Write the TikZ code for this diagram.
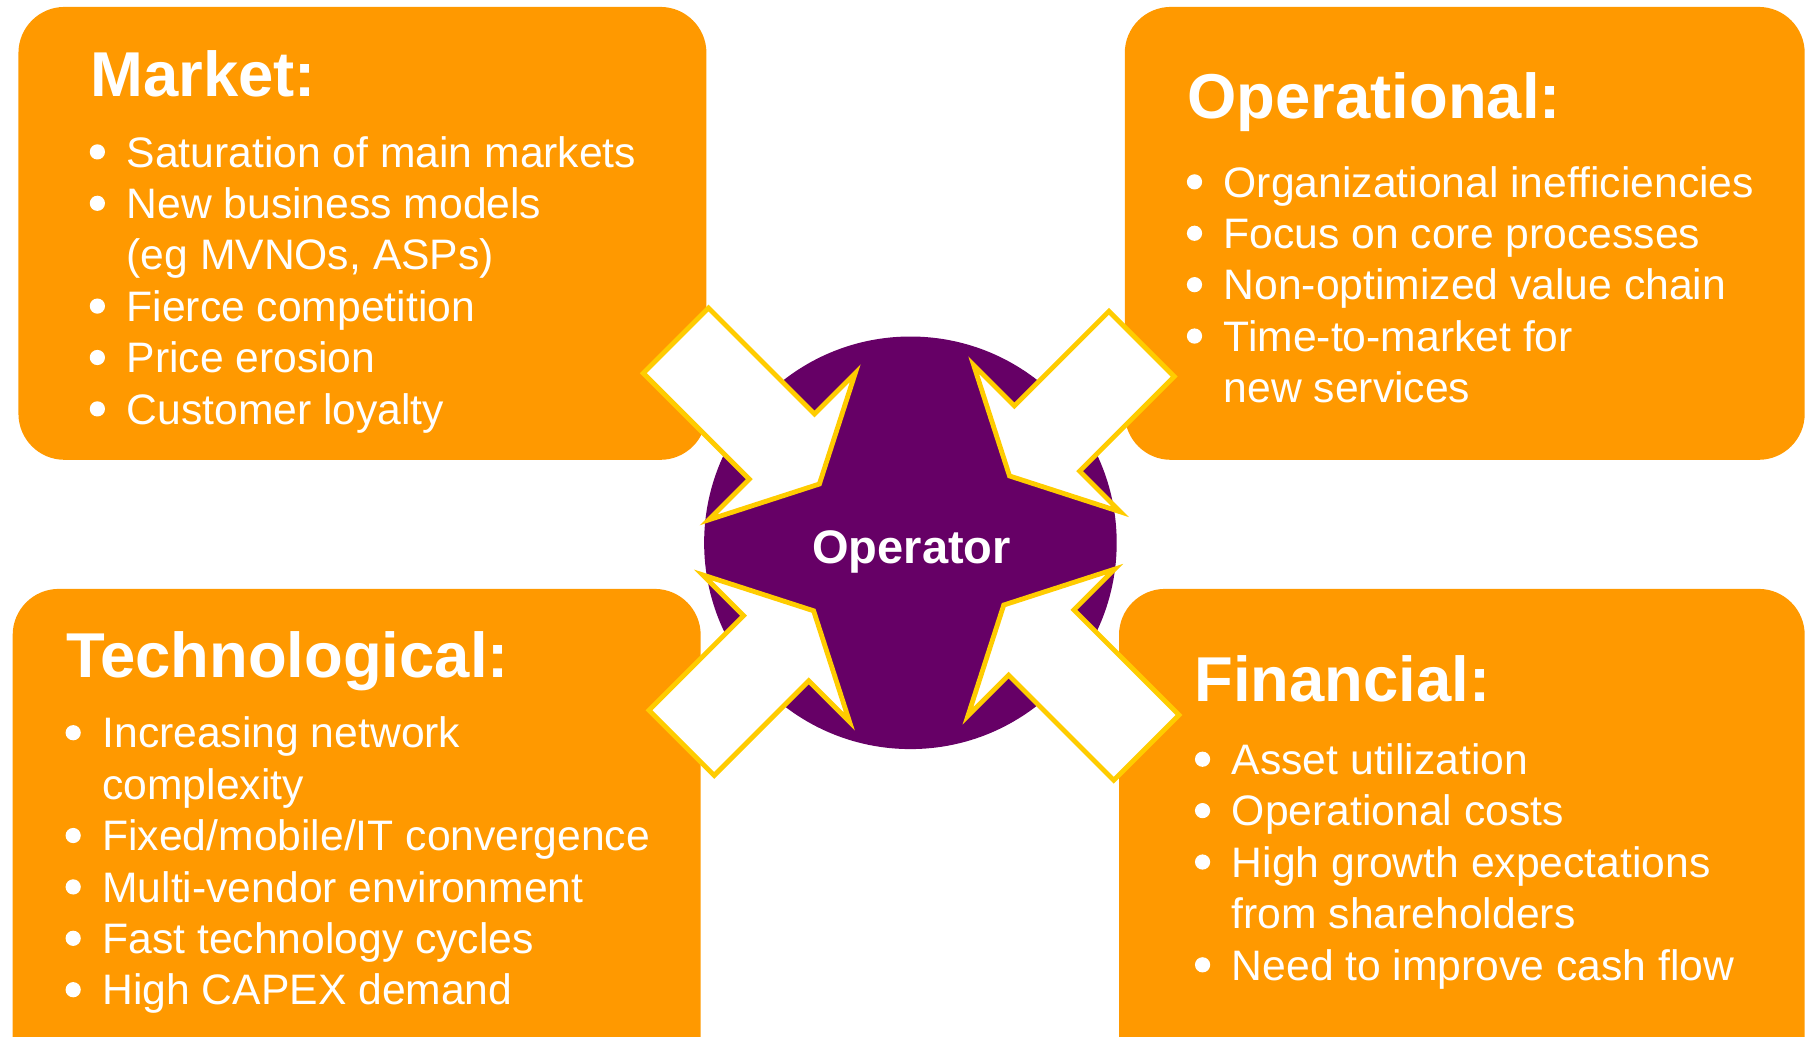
\documentclass[tikz,border=0pt]{standalone}
\usepackage{fontspec}
\setmainfont{Liberation Sans}
\definecolor{orng}{HTML}{FF9900}
\definecolor{ylw}{HTML}{FFCC00}
\definecolor{purp}{HTML}{660066}
\newcommand{\bdot}{\tikz[baseline=0pt]\fill[white] (0,6.6pt) circle (3.3pt);}
\newcommand{\bl}[1]{\makebox[16pt][l]{\bdot}#1}
\newcommand{\cl}[1]{\hspace*{16pt}#1}
\tikzset{
  box/.style={fill=orng, rounded corners=20pt},
  ttl/.style={anchor=base west, inner sep=0pt, text=white, font=\fontsize{27.5}{33}\selectfont\bfseries},
  lst/.style={anchor=base west, inner sep=0pt, text=white, align=left, font=\fontsize{18.5}{22.3}\selectfont},
  inarrow/.style={fill=white, draw=ylw, line width=2.1pt, miter limit=10},
}
\begin{document}
\begin{tikzpicture}[x=0.5pt,y=-0.5pt]
\useasboundingbox (0,0) rectangle (1568,899);
\clip (0,0) rectangle (1568,899);
% boxes
\fill[box] (16,6) rectangle (613,399);
\fill[box] (976,6) rectangle (1566,399);
\fill[box] (11,511) rectangle (608,960);
\fill[box] (971,511) rectangle (1566,960);
% centre
\node[circle, fill=purp, minimum size=179pt, inner sep=0pt] (op) at (790,471) {};
% arrows
\begin{scope}[shift={(711,420)},rotate=-45]
\draw[inarrow] (-176,40) -- (-46,40) -- (-46,90) -- (0,0) -- (-46,-90) -- (-46,-40) -- (-176,-40) -- cycle;
\end{scope}
\begin{scope}[shift={(876,413)},rotate=-135]
\draw[inarrow] (-162,40) -- (-46,40) -- (-46,90) -- (0,0) -- (-46,-90) -- (-46,-40) -- (-162,-40) -- cycle;
\end{scope}
\begin{scope}[shift={(706,530)},rotate=45]
\draw[inarrow] (-162,40) -- (-46,40) -- (-46,90) -- (0,0) -- (-46,-90) -- (-46,-40) -- (-162,-40) -- cycle;
\end{scope}
\begin{scope}[shift={(871,525)},rotate=135]
\draw[inarrow] (-175,40) -- (-46,40) -- (-46,90) -- (0,0) -- (-46,-90) -- (-46,-40) -- (-175,-40) -- cycle;
\end{scope}
\node[anchor=base, inner sep=0pt, text=white, font=\fontsize{20.4}{24}\selectfont\bfseries] (optext) at (791,489) {Operator};
% texts (list nodes anchored at the baseline of their last line)
\node[ttl] (mt) at (78,84) {Market:};
\node[lst] (ml) at (77.5,368) {\bl{Saturation of main markets}\\\bl{New business models}\\\cl{(eg MVNOs, ASPs)}\\\bl{Fierce competition}\\\bl{Price erosion}\\\bl{Customer loyalty}};
\node[ttl] (ot) at (1030,103) {Operational:};
\node[lst] (ol) at (1029.5,349.4) {\bl{Organizational inefficiencies}\\\bl{Focus on core processes}\\\bl{Non-optimized value chain}\\\bl{Time-to-market for}\\\cl{new services}};
\node[ttl] (tt) at (57,588) {Technological:};
\node[lst] (tl) at (56.5,872) {\bl{Increasing network}\\\cl{complexity}\\\bl{Fixed/mobile/IT convergence}\\\bl{Multi-vendor environment}\\\bl{Fast technology cycles}\\\bl{High CAPEX demand}};
\node[ttl] (ft) at (1036,609) {Financial:};
\node[lst] (fl) at (1036.5,850.4) {\bl{Asset utilization}\\\bl{Operational costs}\\\bl{High growth expectations}\\\cl{from shareholders}\\\bl{Need to improve cash flow}};
\end{tikzpicture}
\end{document}
